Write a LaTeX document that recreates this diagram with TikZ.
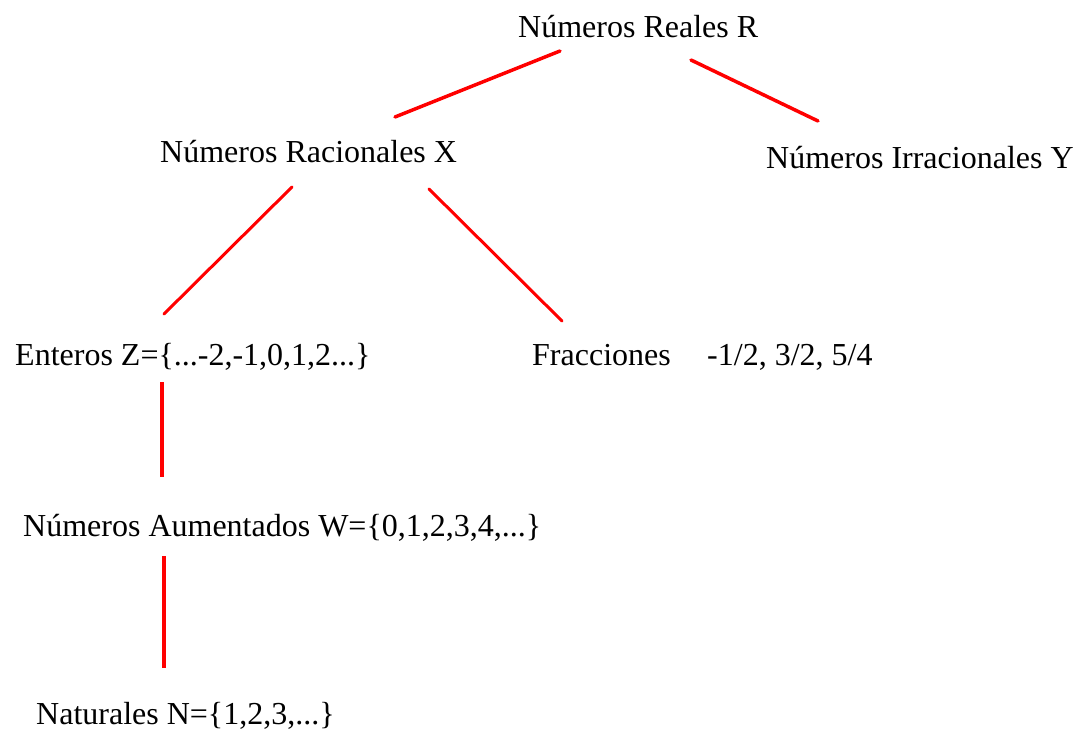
\documentclass[tikz,border=0pt]{standalone}
\usepackage{fontspec}
\setmainfont{Liberation Serif}
\usepackage{tikz}

\begin{document}
\begin{tikzpicture}[x=1pt,y=-1pt,
    lbl/.style={anchor=base west,inner sep=0pt,font=\fontsize{32}{36}\selectfont},
    rama/.style={red,line width=3.5pt,line cap=round}]
            \useasboundingbox (0,0) rectangle (1084,734);
            % etiquetas
            \node[lbl] (reales) at (518,37) {Números Reales R};
            \node[lbl] (racionales) at (160,162) {Números Racionales X};
            \node[lbl] (irracionales) at (766,168) {Números Irracionales Y};
            \node[lbl] (enteros) at (15,365) {Enteros Z=\{...-2,-1,0,1,2...\}};
            \node[lbl] (fracciones) at (532,365) {Fracciones};
            \node[lbl] (ejemplos) at (707,365) {-1/2, 3/2, 5/4};
            \node[lbl] (aumentados) at (23,536) {Números Aumentados W=\{0,1,2,3,4,...\}};
            \node[lbl] (naturales) at (36,724) {Naturales N=\{1,2,3,...\}};
            % extremos de las ramas
            \coordinate (realesI) at (560,51);
            \coordinate (realesD) at (691,60);
            \coordinate (racionalesS) at (395,117);
            \coordinate (irracionalesS) at (818,121);
            \coordinate (racionalesI) at (292,187);
            \coordinate (racionalesD) at (429,189);
            \coordinate (enterosS) at (164,314);
            \coordinate (fraccionesS) at (562,321);
            \coordinate (enterosI) at (162,382);
            \coordinate (aumentadosS) at (162,477);
            \coordinate (aumentadosI) at (164,556);
            \coordinate (naturalesS) at (164,668);
            \draw[rama] (realesI) -- (racionalesS);
            \draw[rama] (realesD) -- (irracionalesS);
            \draw[rama,line width=3pt] (racionalesI) -- (enterosS);
            \draw[rama,line width=3pt] (racionalesD) -- (fraccionesS);
            \draw[rama,line cap=butt] (enterosI) -- (aumentadosS);
            \draw[rama,line cap=butt] (aumentadosI) -- (naturalesS);
          \end{tikzpicture}
\end{document}
